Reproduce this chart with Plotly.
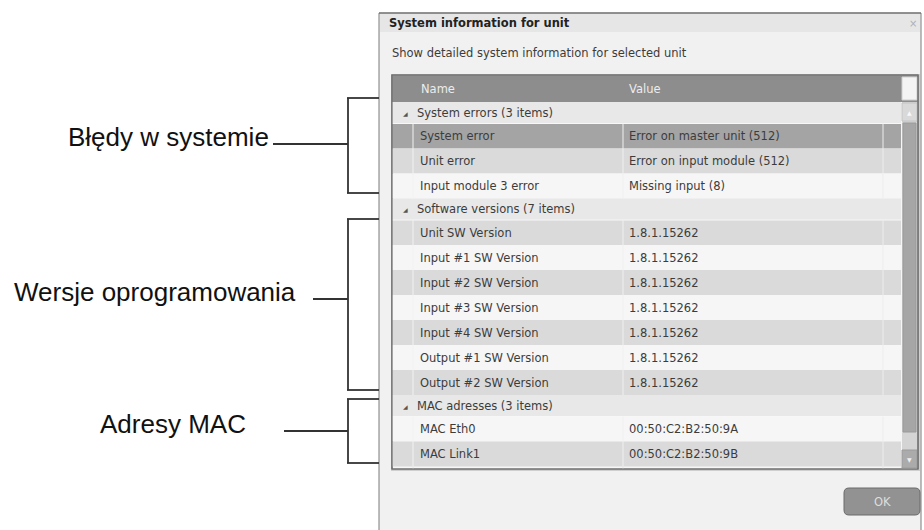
import plotly.graph_objects as go

# ---- data ----
dialog_title = "System information for unit"
dialog_subtitle = "Show detailed system information for selected unit"
column_names = ["Name", "Value"]

group_labels = ["System errors (3 items)", "Software versions (7 items)", "MAC adresses (3 items)"]
error_names = ["System error", "Unit error", "Input module 3 error"]
error_values = ["Error on master unit (512)", "Error on input module (512)", "Missing input (8)"]
sw_names = ["Unit SW Version", "Input #1 SW Version", "Input #2 SW Version", "Input #3 SW Version",
            "Input #4 SW Version", "Output #1 SW Version", "Output #2 SW Version"]
sw_values = ["1.8.1.15262", "1.8.1.15262", "1.8.1.15262", "1.8.1.15262",
             "1.8.1.15262", "1.8.1.15262", "1.8.1.15262"]
mac_names = ["MAC Eth0", "MAC Link1"]
mac_values = ["00:50:C2:B2:50:9A", "00:50:C2:B2:50:9B"]
callouts = ["Błędy w systemie", "Wersje oprogramowania", "Adresy MAC"]
selected_row = 0

groups = [(group_labels[0], error_names, error_values),
          (group_labels[1], sw_names, sw_values),
          (group_labels[2], mac_names, mac_values)]

# ---- layout (pixel space) ----
W, H = 924, 530
UI = "DejaVu Sans"
FS = 11.5
TXT = "#3c3c3c"
gx0, gx1 = 392, 918          # grid box
gy0, gy1 = 75, 469
hdr_y1 = 102
ind_x = 413                  # indent column edge
col_x = 623                  # name / value split
val_x1 = 883
sb_x0, sb_x1 = 902, 917      # scrollbar
GROUP_H, ITEM_H = 21.5, 25

fig = go.Figure()
shapes, notes = [], []


def rect(x0, y0, x1, y1, fill, line=None, lw=0):
    shapes.append(dict(type="rect", x0=x0, y0=y0, x1=x1, y1=y1, fillcolor=fill,
                       line=dict(color=line or fill, width=lw), layer="below"))


def hline(x0, x1, y, color="#333", w=1.8):
    shapes.append(dict(type="line", x0=x0, x1=x1, y0=y, y1=y, line=dict(color=color, width=w)))


def vline(x, y0, y1, color="#333", w=1.8):
    shapes.append(dict(type="line", x0=x, x1=x, y0=y0, y1=y1, line=dict(color=color, width=w)))


def text(x, y, s, size=FS, color=TXT, family=UI, anchor="left", bold=False):
    if bold:
        s = "<b>" + s + "</b>"
    notes.append(dict(x=x, y=y, text=s, showarrow=False, xanchor=anchor, yanchor="middle",
                      font=dict(family=family, size=size, color=color), borderpad=0))


# dialog
rect(379, 13, 921, 535, "#f1f1f1", "#7a7a7a", 1)
rect(380, 14, 920, 32, "#e6e6e6")
hline(379, 921, 13, "#666", 1.2)
text(388, 23, dialog_title, color="#222", bold=True)
text(913, 23, "×", size=10, color="#b0b0b0", anchor="center")
text(391, 53, dialog_subtitle)

# grid
rect(gx0 - 1, gy0 - 1, gx1 + 2, gy1 + 2, "#cfcfcf")
rect(gx0, gy0, gx1, gy1, "#f6f6f6", "#6e6e6e", 1.2)
rect(gx0, gy0, gx1, hdr_y1, "#8d8d8d")
rect(sb_x0, 77, sb_x1, 100, "#f4f4f4", "#cfcfcf", 1)
text(420, 89, column_names[0], color="#ececec")
text(628, 89, column_names[1], color="#ececec")

# rows
y = hdr_y1
idx = 0
for label, names, values in groups:
    rect(gx0, y, sb_x0 - 1, y + GROUP_H, "#e8e8e8")
    hline(gx0, sb_x0 - 1, y + GROUP_H, "#f7f7f7", 1)
    text(402, y + GROUP_H / 2 + 0.5, "◢", size=6, color="#555")
    text(416, y + GROUP_H / 2, label)
    y += GROUP_H
    for n, v in zip(names, values):
        if idx == selected_row:
            fill = "#a4a4a4"
        elif idx % 2 == 1:
            fill = "#dadada"
        else:
            fill = "#f6f6f6"
        rect(gx0, y, sb_x0 - 1, min(y + ITEM_H, gy1), fill)
        vline(ind_x, y, y + ITEM_H, "#f2f2f2", 1)
        vline(col_x, y, y + ITEM_H, "#f0f0f0", 1)
        vline(val_x1, y, y + ITEM_H, "#ededed", 1)
        text(419, y + ITEM_H / 2, n)
        text(628, y + ITEM_H / 2, v)
        y += ITEM_H
        idx += 1
vline(ind_x, y, gy1, "#e6e6e6", 1)
vline(col_x, y, gy1, "#e6e6e6", 1)
vline(val_x1, y, gy1, "#e6e6e6", 1)

# scrollbar
rect(sb_x0, hdr_y1, sb_x1, gy1, "#d4d4d4")
rect(sb_x0, hdr_y1 + 1, sb_x1, 121, "#d9d9d9", "#c4c4c4", 1)
text((sb_x0 + sb_x1) / 2, 112, "▲", size=6, color="#f8f8f8", anchor="center")
rect(sb_x0 + 1, 123, sb_x1 - 1, 432, "#a6a6a6", "#9a9a9a", 1)
rect(sb_x0, 450, sb_x1, gy1 - 1, "#ababab", "#9c9c9c", 1)
text((sb_x0 + sb_x1) / 2, 459, "▼", size=6, color="#f0f0f0", anchor="center")
shapes.append(dict(type="rect", x0=gx0, y0=gy0, x1=gx1, y1=gy1,
                   line=dict(color="#6e6e6e", width=1.2)))

# OK button
r = 5
bx0, by0, bx1, by1 = 844, 488, 920, 515
path = (f"M{bx0 + r},{by0} L{bx1 - r},{by0} Q{bx1},{by0} {bx1},{by0 + r} L{bx1},{by1 - r} "
        f"Q{bx1},{by1} {bx1 - r},{by1} L{bx0 + r},{by1} Q{bx0},{by1} {bx0},{by1 - r} "
        f"L{bx0},{by0 + r} Q{bx0},{by0} {bx0 + r},{by0} Z")
shapes.append(dict(type="path", path=path, fillcolor="#929292", line=dict(color="#6a6a6a", width=1)))
text((bx0 + bx1) / 2, (by0 + by1) / 2, "OK", color="#dedede", anchor="center")

# callouts with brackets: (top, bottom, tick y, tick start x, text right x)
brackets = [(98, 193, 144, 273, 270), (219, 390, 299, 313, 297), (399, 463, 431, 284, 247)]
for label, (top, bot, mid, tick_x0, tx) in zip(callouts, brackets):
    vline(348, top, bot)
    hline(347, 379, top)
    hline(347, 379, bot)
    hline(tick_x0, 348, mid)
    text(tx, mid - 7, label, size=26, color="#111", family="Liberation Sans", anchor="right")

fig.update_layout(
    width=W, height=H, margin=dict(l=0, r=0, t=0, b=0),
    paper_bgcolor="white", plot_bgcolor="white", showlegend=False,
    xaxis=dict(range=[0, W], visible=False, fixedrange=True),
    yaxis=dict(range=[H, 0], visible=False, fixedrange=True),
    shapes=shapes, annotations=notes,
)
fig.write_html("out.html", config={"displayModeBar": False},
               post_script="document.body.style.margin='0';document.body.style.overflow='hidden';")
